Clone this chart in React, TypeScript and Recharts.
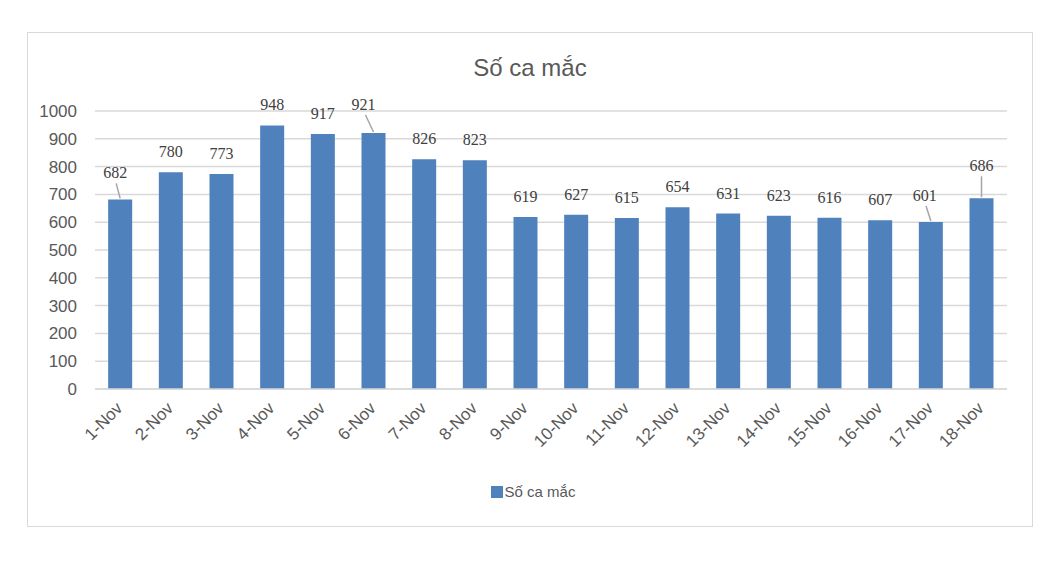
import { BarChart, Bar, XAxis, YAxis, CartesianGrid, Legend, LabelList } from 'recharts';

const days = [
  '1-Nov', '2-Nov', '3-Nov', '4-Nov', '5-Nov', '6-Nov', '7-Nov', '8-Nov', '9-Nov',
  '10-Nov', '11-Nov', '12-Nov', '13-Nov', '14-Nov', '15-Nov', '16-Nov', '17-Nov', '18-Nov',
];
const cases = [682, 780, 773, 948, 917, 921, 826, 823, 619, 627, 615, 654, 631, 623, 616, 607, 601, 686];
const yTicks = [0, 100, 200, 300, 400, 500, 600, 700, 800, 900, 1000];

// labels that Excel nudged away from the bar, with a leader line: [dx, extra lift]
const labelNudge: Record<number, [number, number]> = {
  0: [-5, 6],
  5: [-10, 8],
  16: [-6, 6],
  17: [0, 12],
};

const data = days.map((day, i) => ({ day, cases: cases[i] }));

interface LabelProps {
  x?: number;
  y?: number;
  width?: number;
  value?: number;
  index?: number;
}

function renderLabel({ x = 0, y = 0, width = 0, value, index = 0 }: LabelProps) {
  const cx = x + width / 2;
  const nudge = labelNudge[index];
  const dx = nudge ? nudge[0] : 0;
  const lift = nudge ? nudge[1] : 0;
  const ty = y - 15 - lift;
  return (
    <g>
      {nudge && (
        <line x1={cx + dx * 0.8} y1={ty + 5} x2={cx} y2={y - 1} stroke="#a6a6a6" strokeWidth={1.5} />
      )}
      <text
        x={cx + dx}
        y={ty}
        textAnchor="middle"
        fontFamily="'Liberation Serif', serif"
        fontSize={16}
        fill="#404040"
      >
        {value}
      </text>
    </g>
  );
}

interface TickProps {
  x?: number;
  y?: number;
  payload?: { value: string };
}

function renderDayTick({ x = 0, y = 0, payload }: TickProps) {
  const ax = x - 1;
  const ay = y + 14;
  return (
    <text
      x={ax}
      y={ay}
      dy="0.35em"
      textAnchor="end"
      transform={`rotate(-45, ${ax}, ${ay})`}
      fill="#595959"
      fontSize={17}
    >
      {payload?.value}
    </text>
  );
}

function renderLegend() {
  return (
    <div style={{ textAlign: 'center', paddingLeft: 6, fontSize: 15, color: '#595959', lineHeight: '20px' }}>
      <span
        style={{
          display: 'inline-block',
          width: 12,
          height: 12,
          background: '#4f81bd',
          verticalAlign: -1,
          marginRight: 2,
        }}
      />
      Số ca mắc
    </div>
  );
}

export default function App() {
  return (
    <div
      style={{
        position: 'relative',
        marginLeft: 19,
        marginTop: 24,
        width: 1004,
        height: 493,
        border: '1px solid #d9d9d9',
        fontFamily: "'Liberation Sans', sans-serif",
      }}
    >
      <div
        style={{
          position: 'absolute',
          top: 21,
          left: 0,
          width: '100%',
          textAlign: 'center',
          fontSize: 24,
          color: '#595959',
        }}
      >
        Số ca mắc
      </div>
      <BarChart
        width={1004}
        height={493}
        data={data}
        margin={{ top: 78, right: 25, bottom: 24, left: 0 }}
        barCategoryGap="26%"
      >
        <CartesianGrid vertical={false} stroke="#d9d9d9" strokeWidth={1.5} />
        <XAxis
          dataKey="day"
          interval={0}
          height={93}
          tickLine={false}
          axisLine={{ stroke: '#d9d9d9', strokeWidth: 1.5 }}
          tick={renderDayTick}
          tickSize={0}
        />
        <YAxis
          width={67}
          domain={[0, 1000]}
          ticks={yTicks}
          interval={0}
          axisLine={false}
          tickLine={false}
          tickSize={0}
          tickMargin={18}
          tick={{ fill: '#595959', fontSize: 17 }}
        />
        <Legend
          verticalAlign="bottom"
          align="center"
          wrapperStyle={{ left: 0, width: 1004 }}
          content={renderLegend}
        />
        <Bar dataKey="cases" name="Số ca mắc" fill="#4f81bd" isAnimationActive={false}>
          <LabelList dataKey="cases" content={renderLabel} />
        </Bar>
      </BarChart>
    </div>
  );
}
